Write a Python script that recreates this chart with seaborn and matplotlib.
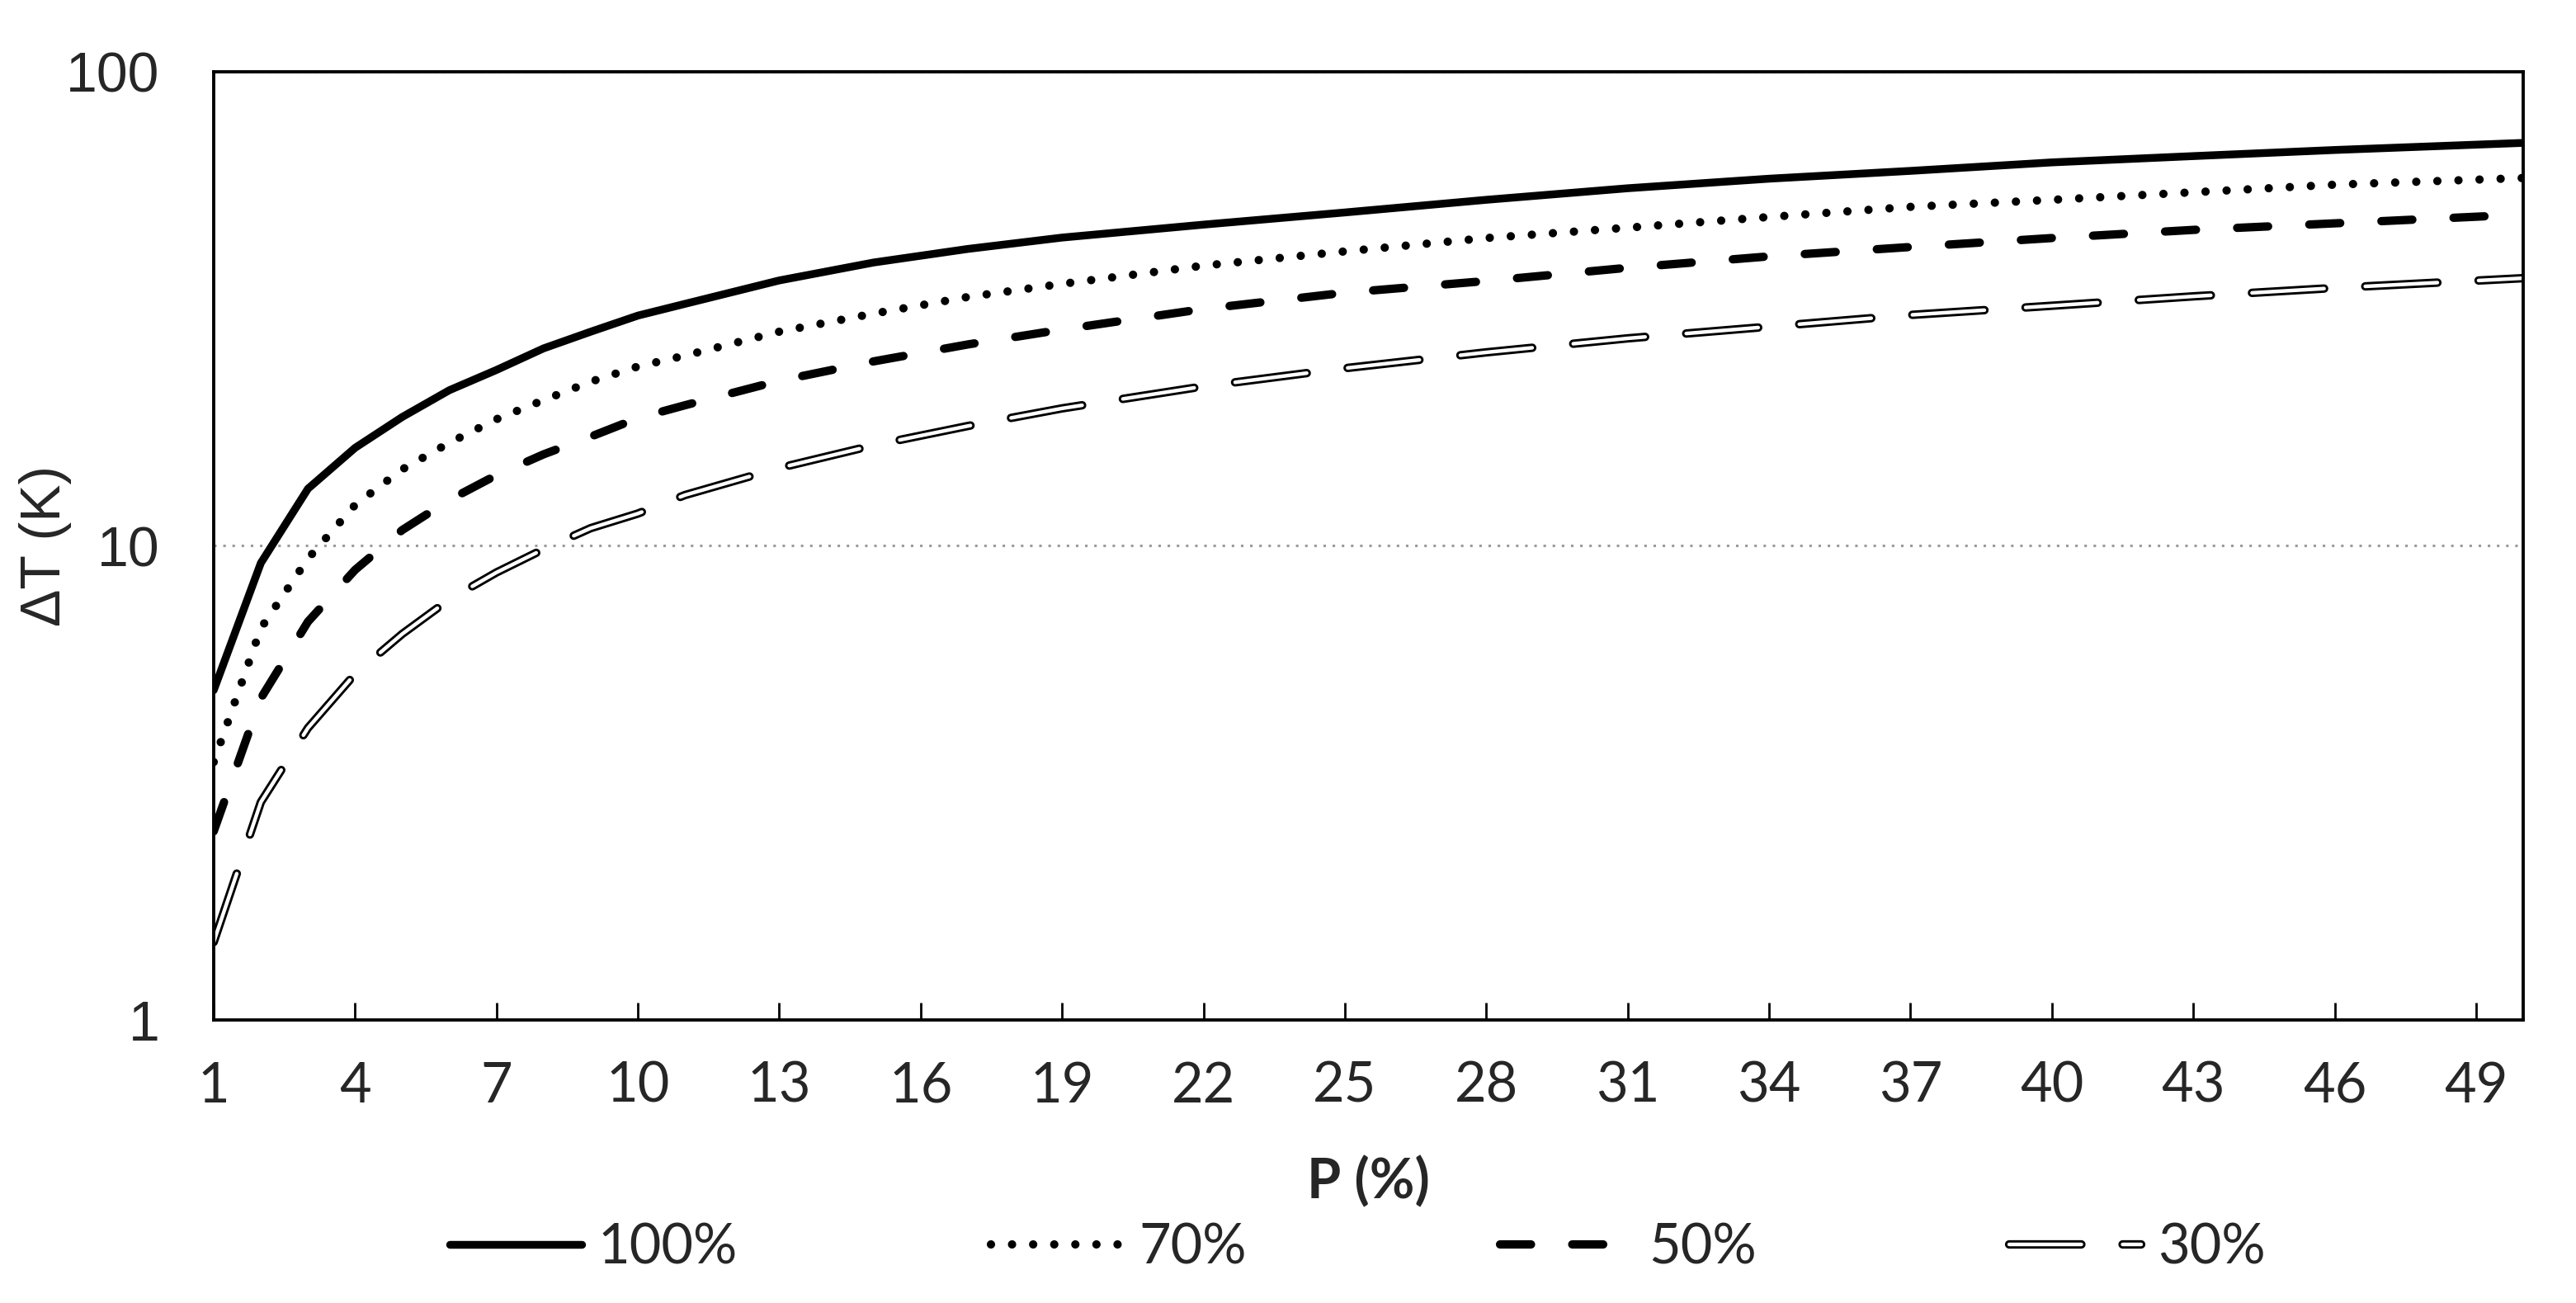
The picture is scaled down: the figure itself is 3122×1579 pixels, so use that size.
import matplotlib
matplotlib.use("Agg")
import matplotlib.pyplot as plt
import seaborn as sns
import pandas as pd
from matplotlib.ticker import FixedLocator, FixedFormatter, NullLocator

# ---- data ----
P = [1, 2, 3, 4, 5, 6, 7, 8, 9, 10, 11, 13, 15, 17, 19, 22, 25, 28, 31, 34, 37, 40, 43, 46, 50]
dT_100 = [4.96, 9.2, 13.2, 16.1, 18.7, 21.3, 23.5, 26.1, 28.3, 30.6, 32.4, 36.3, 39.6, 42.3, 44.7,
          47.6, 50.5, 53.7, 56.8, 59.5, 61.8, 64.4, 66.4, 68.4, 70.8]
dT_70 = [3.5, 6.7, 9.4, 12.2, 14.5, 16.5, 18.5, 20.3, 22.2, 23.9, 25.2, 28.3, 30.9, 33.5, 35.7,
         39.0, 41.8, 44.6, 46.9, 49.4, 51.9, 53.7, 55.7, 57.8, 59.7]
dT_50 = [2.5, 4.77, 6.92, 8.9, 10.8, 12.5, 14.1, 15.6, 17.0, 18.6, 19.8, 22.3, 24.5, 26.6, 28.6,
         31.6, 34.2, 36.2, 38.6, 40.8, 42.7, 44.6, 46.4, 47.9, 50.0]
dT_30 = [1.46, 2.88, 4.13, 5.37, 6.52, 7.71, 8.79, 9.84, 10.9, 11.7, 12.8, 14.6, 16.3, 17.9, 19.5,
         21.7, 23.7, 25.6, 27.4, 29.0, 30.7, 32.1, 33.6, 35.0, 36.7]
series_labels = ["100%", "70%", "50%", "30%"]
x_ticks = list(range(1, 50, 3))
y_ticks = [1, 10, 100]
y_tick_labels = ["1", "10", "100"]

df = pd.DataFrame({"P": P, "100%": dT_100, "70%": dT_70, "50%": dT_50, "30%": dT_30})

sns.set_style("white")
plt.rcParams["font.family"] = ["Lato", "DejaVu Sans"]
plt.rcParams["lines.scale_dashes"] = False

fig = plt.figure(figsize=(31.22, 15.79), dpi=100)
ax = fig.add_axes([259 / 3122, 1 - 1236 / 1579, (3058 - 259) / 3122, (1236 - 87) / 1579])

# 100% solid
sns.lineplot(data=df, x="P", y="100%", ax=ax, color="black", linewidth=6.8,
             solid_capstyle="round", solid_joinstyle="round")
l100 = ax.lines[-1]
# 70% round dots
sns.lineplot(data=df, x="P", y="70%", ax=ax, color="black", linewidth=7.3)
l70 = ax.lines[-1]
l70.set_linestyle((0, (0.01, 18.4)))
l70.set_dash_capstyle("round")
# 50% dashes
sns.lineplot(data=df, x="P", y="50%", ax=ax, color="black", linewidth=7.3)
l50 = ax.lines[-1]
l50.set_linestyle((0, (27, 36)))
l50.set_dash_capstyle("round")
# 30% double-line dashes
sns.lineplot(data=df, x="P", y="30%", ax=ax, color="black", linewidth=7.4)
l30b = ax.lines[-1]
l30b.set_linestyle((0, (63, 36)))
l30b.set_dash_capstyle("round")
sns.lineplot(data=df, x="P", y="30%", ax=ax, color="white", linewidth=3.2)
l30w = ax.lines[-1]
l30w.set_linestyle((0, (63, 36)))
l30w.set_dash_capstyle("round")

ax.set_yscale("log")
ax.set_ylim(1, 100)
ax.set_xlim(1, 50)

# gridline at 10
ax.yaxis.set_major_locator(FixedLocator(y_ticks))
ax.yaxis.set_major_formatter(FixedFormatter(y_tick_labels))
ax.yaxis.set_minor_locator(NullLocator())
ax.grid(axis="y", which="major", color="#9a9a9a", linewidth=2.2, linestyle=(0, (2.2, 5.8)))
ax.grid(axis="x", visible=False)
ax.set_axisbelow(True)

ax.set_xticks(x_ticks)
ax.set_xticklabels([str(t) for t in x_ticks])
ax.tick_params(axis="x", direction="in", length=15, width=2.0, color="black",
               labelsize=48, pad=36, bottom=True)
ax.tick_params(axis="y", length=0, labelsize=49, pad=47)
for lab in ax.get_yticklabels():
    lab.set_fontfamily(["Liberation Sans", "DejaVu Sans"])

for s in ax.spines.values():
    s.set_visible(True)
    s.set_color("black")
    s.set_linewidth(2.8)

ax.set_xlabel("P (%)", fontsize=48, fontweight="bold")
ax.xaxis.set_label_coords(0.5, -0.1436)
ax.set_ylabel("ΔT (K)", fontsize=49, family=["Liberation Sans", "DejaVu Sans"])
ax.yaxis.set_label_coords(-0.0615, 0.5)

leg = fig.legend([l100, l70, l50, (l30b, l30w)], series_labels, loc="center",
                 bbox_to_anchor=(0.527, 0.042), ncol=4, frameon=False, fontsize=48,
                 handlelength=2.4, handletextpad=0.3, columnspacing=4.6)
if ax.get_legend() is not None:
    ax.get_legend().remove()

fig.savefig("out.png", dpi=100, facecolor="white")
